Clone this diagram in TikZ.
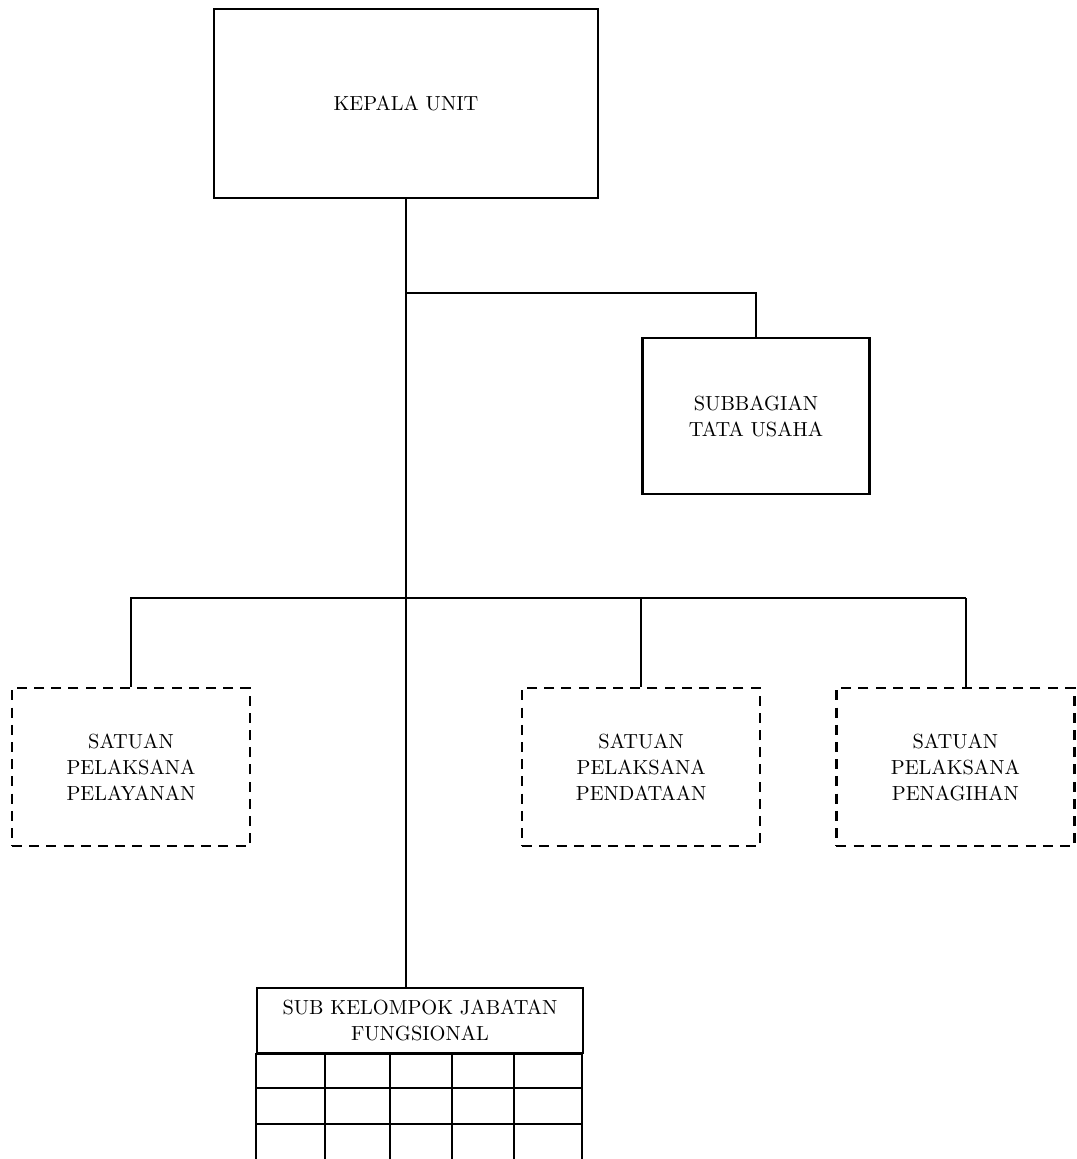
\documentclass[tikz,border=0pt]{standalone}
\usepackage{tikz}
\tikzset{unit node/.style={rectangle,draw,line width=1.3pt,align=center,inner sep=0pt,font=\fontsize{10.2}{13}\selectfont},
satuan node/.style={rectangle,draw,line width=1.1pt,dash pattern=on 5pt off 3.6pt,align=center,inner sep=0pt,minimum width=119pt,minimum height=79pt,font=\fontsize{10.2}{13}\selectfont},
garis/.style={line width=0.8pt},
}
\usetikzlibrary{positioning}
\begin{document}
\begin{tikzpicture}[x=0.5pt,y=-0.5pt]
	\useasboundingbox (0,0) rectangle (1076,1159);
	\clip (0,0) rectangle (1076,1159);
	
	%%
	\node[unit node,minimum width=192pt,minimum height=94.5pt] (kepala) at (406,103.5) {KEPALA UNIT};
	\node[unit node,minimum width=113.5pt,minimum height=78pt] (tu) at (756,416) {SUBBAGIAN\\TATA USAHA};
	\node[satuan node] (sp1) at (131,767) {SATUAN\\PELAKSANA\\PELAYANAN};
	\node[satuan node] (sp2) [right = 135pt of sp1] {SATUAN\\PELAKSANA\\PENDATAAN};
	\node[satuan node] (sp3) [right = 37pt of sp2] {SATUAN\\PELAKSANA\\PENAGIHAN};
	\node[unit node,line width=1pt,minimum width=163pt,minimum height=32.5pt] (fung) at (420,1020.5) {SUB KELOMPOK JABATAN\\FUNGSIONAL};
	
	\coordinate (b1) at (406,293);
	\coordinate (b2) at (406,598);
	\coordinate (d3) at (966,598);
	
	\path[draw,garis]
	(kepala.south) -- (kepala.south |- fung.north)
	(b1) -| (tu.north)
	(sp1.north) |- (d3)
	(sp2.north) -- (sp2.north |- b2)
	(d3) -- (d3 |- sp3.north)
	;
	
	% kotak jabatan fungsional
	\draw[line width=1pt] (fung.south west) rectangle ++(326,112);
	\foreach \gx in {325,390,452,514}
		\draw[line width=1pt] (\gx,1053) -- (\gx,1165);
	\foreach \gy in {1088,1124}
		\draw[line width=1pt] (257,\gy) -- (583,\gy);
\end{tikzpicture}
\end{document}
